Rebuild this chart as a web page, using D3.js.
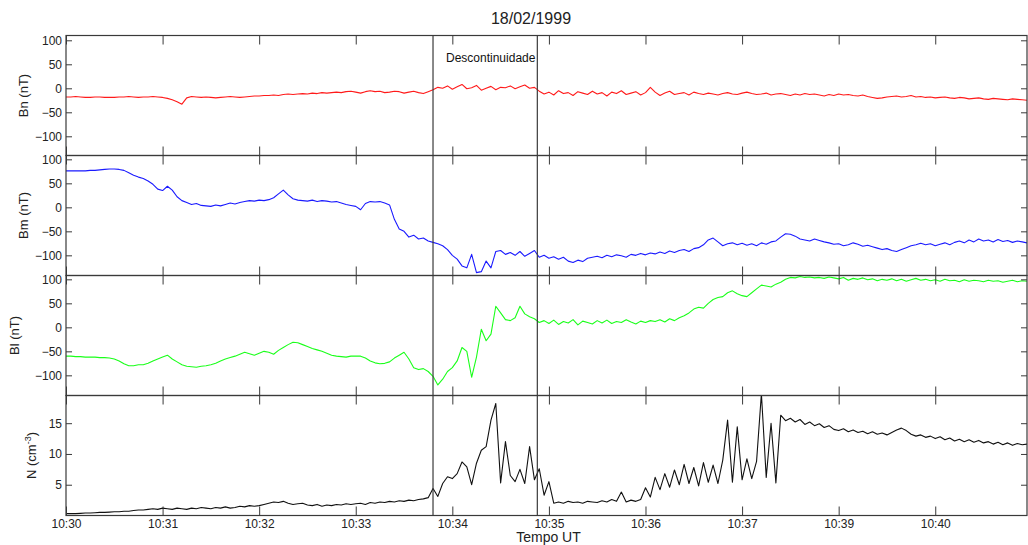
<!DOCTYPE html>
<html>
<head>
<meta charset="utf-8">
<script src="https://cdn.jsdelivr.net/npm/d3@7"></script>
<style>
  html, body { margin: 0; padding: 0; background: #fff; }
  svg { display: block; font-family: "Liberation Sans", Arial, sans-serif; }
</style>
</head>
<body>
<svg id="chart" width="1028" height="545"></svg>
<script>
// Sampling: one value every 0.05 min, first sample at 10:30 UT
const sampleStep = 0.05;

// Time axis ticks (minutes from 10:30) and their labels
const tickMinutes = [0, 1, 2, 3, 4, 5, 6, 7, 8, 9];
const tickLabels = ["10:30", "10:31", "10:32", "10:33", "10:34", "10:35", "10:36", "10:37", "10:39", "10:40"];

// Discontinuity boundaries (minutes from 10:30)
const discontinuity = [3.80, 4.88];

// Field component Bn (nT)
const bn = [
  -18,-18,-17,-18,-19,-19,-18,-18,-19,-19,
  -19,-18,-18,-17,-18,-19,-18,-18,-17,-18,
  -19,-21,-24,-28,-33,-20,-17,-18,-19,-18,
  -19,-20,-19,-18,-17,-18,-19,-18,-17,-16,
  -16,-15,-15,-14,-15,-13,-12,-13,-12,-11,
  -12,-10,-11,-9,-10,-9,-8,-9,-7,-6,
  -8,-10,-7,-5,-7,-6,-9,-8,-6,-7,
  -10,-8,-6,-9,-11,-7,-3,2,0,5,
  -2,3,8,-1,1,6,-4,0,4,-3,
  2,1,5,-1,3,7,0,2,-6,-12,
  -8,-14,-5,-11,-9,-15,-7,-10,-13,-6,
  -12,-9,-16,-8,-11,-5,-13,-10,-7,-14,
  -9,2,-8,-15,-10,-6,-13,-11,-9,-14,
  -8,-11,-13,-10,-12,-14,-11,-9,-12,-13,
  -10,-8,-11,-13,-12,-10,-14,-12,-11,-13,
  -15,-12,-14,-11,-13,-12,-14,-16,-13,-15,
  -12,-14,-13,-15,-16,-14,-17,-19,-21,-20,
  -18,-17,-16,-18,-17,-15,-18,-17,-19,-18,
  -20,-19,-18,-20,-21,-19,-20,-22,-21,-20,
  -22,-23,-21,-22,-23,-24,-22,-23,-24,-25
];

// Field component Bm (nT)
const bm = [
  76,76,76,76,76,77,77,78,79,80,
  80,79,77,72,67,63,60,55,48,38,
  35,44,36,22,14,10,6,8,4,3,
  2,5,3,6,9,7,10,12,14,13,
  15,14,16,20,28,36,26,18,15,14,
  13,15,12,14,13,11,12,9,6,4,
  2,-5,8,12,11,12,9,5,-25,-45,
  -50,-62,-58,-66,-64,-70,-73,-76,-80,-88,
  -100,-108,-122,-126,-98,-136,-134,-112,-126,-92,
  -90,-98,-94,-100,-92,-102,-96,-90,-104,-100,
  -106,-103,-108,-104,-112,-115,-110,-113,-106,-104,
  -102,-105,-100,-103,-99,-101,-104,-98,-100,-96,
  -99,-95,-97,-93,-96,-91,-94,-90,-88,-92,
  -86,-84,-78,-68,-64,-72,-80,-76,-74,-78,
  -75,-79,-76,-80,-74,-77,-72,-70,-62,-55,
  -56,-60,-66,-68,-70,-66,-69,-72,-74,-77,
  -76,-80,-78,-74,-77,-81,-79,-82,-85,-88,
  -86,-90,-92,-88,-84,-80,-78,-75,-78,-76,
  -80,-77,-74,-78,-73,-70,-74,-68,-72,-66,
  -70,-68,-72,-67,-71,-69,-73,-70,-72,-74
];

// Field component Bl (nT)
const bl = [
  -60,-60,-61,-61,-62,-62,-62,-63,-63,-64,
  -66,-70,-76,-80,-80,-78,-78,-75,-70,-66,
  -62,-58,-66,-72,-78,-81,-82,-83,-81,-80,
  -78,-75,-70,-66,-63,-60,-56,-52,-55,-58,
  -54,-50,-52,-56,-48,-42,-36,-31,-32,-36,
  -40,-44,-47,-50,-54,-58,-60,-61,-62,-60,
  -60,-60,-64,-70,-74,-76,-75,-72,-64,-58,
  -52,-66,-84,-88,-86,-92,-102,-120,-108,-92,
  -84,-70,-42,-50,-104,-62,-4,-28,-14,44,
  30,16,14,20,44,28,22,18,10,14,
  8,15,6,12,9,16,5,13,10,7,
  14,9,15,8,12,10,16,11,7,13,
  10,14,12,16,11,18,14,20,24,30,
  38,42,40,50,58,62,64,72,76,70,
  66,64,72,80,88,86,84,90,94,100,
  104,103,106,104,105,103,104,102,105,103,
  101,104,98,102,100,103,99,101,97,100,
  98,101,97,100,96,99,102,98,100,97,
  99,96,100,97,98,95,99,96,98,97,
  95,98,96,97,94,96,98,95,97,96
];

// Plasma density N (cm^-3)
const density = [
  0.3,0.3,0.3,0.35,0.4,0.4,0.45,0.5,0.5,0.55,
  0.6,0.6,0.7,0.7,0.8,0.9,0.9,1.0,1.1,1.0,
  1.2,1.1,1.0,1.2,1.1,1.0,1.2,1.1,1.3,1.2,
  1.1,1.3,1.2,1.4,1.2,1.3,1.5,1.4,1.6,1.5,
  1.6,1.8,2.0,2.2,2.1,2.3,2.0,1.8,1.9,2.0,
  1.7,1.6,1.8,1.5,1.7,1.6,1.8,1.7,1.9,1.8,
  1.9,2.0,1.8,2.1,2.0,2.2,2.1,2.3,2.2,2.4,
  2.3,2.5,2.4,2.6,2.7,2.9,4.4,3.1,5.2,6.3,
  6.0,6.8,8.7,7.9,5.0,8.5,10.6,11.2,15.5,18.2,
  5.3,12.0,6.5,5.5,7.5,5.2,11.2,5.8,7.6,3.3,
  5.5,2.0,2.2,2.0,2.3,2.1,2.2,2.0,2.3,2.2,
  2.1,2.4,2.2,2.6,2.3,3.8,2.2,2.5,2.3,2.6,
  4.5,3.0,6.2,4.2,6.8,4.6,7.4,5.0,8.3,5.2,
  7.8,4.8,8.6,5.4,8.2,5.2,9.0,15.5,5.4,14.4,
  5.8,9.2,6.0,8.8,19.8,6.2,15.0,5.3,16.3,15.4,
  15.8,15.2,15.6,14.8,15.2,14.6,14.9,14.3,14.6,14.0,
  13.8,14.1,13.6,13.9,13.5,13.7,13.3,13.6,13.2,13.4,
  13.1,13.5,13.9,14.2,13.8,13.2,12.9,13.1,12.7,12.9,
  12.5,12.8,12.3,12.6,12.1,12.4,12.0,12.3,11.9,12.2,
  11.8,12.0,11.6,11.9,11.5,11.8,11.4,11.7,11.5,11.6
];

const fieldTicks = [-100, -50, 0, 50, 100];
const densityTicks = [5, 10, 15];

// ---- layout ----
const svg = d3.select("#chart");
const left = 66, right = 1027;
const panelTops = [35.5, 155.5, 275.5, 395.5];
const panelHeight = 120;
const axisColor = "#3a3a3a";

const x = d3.scaleLinear().domain([0, 9.95]).range([left, right]);

const panels = [
  { values: bn, color: "#ff1a1a", domain: [-140, 110], ticks: fieldTicks, label: "Bn (nT)", labelX: 28 },
  { values: bm, color: "#1a1aff", domain: [-142, 108], ticks: fieldTicks, label: "Bm (nT)", labelX: 28 },
  { values: bl, color: "#1aff1a", domain: [-142, 108], ticks: fieldTicks, label: "Bl (nT)", labelX: 19 },
  { values: density, color: "#111111", domain: [0, 19.5], ticks: densityTicks, label: null, labelX: 36 }
];

const defs = svg.append("defs");

panels.forEach((p, k) => {
  const top = panelTops[k];
  const bottom = top + panelHeight;
  const y = d3.scaleLinear().domain(p.domain).range([bottom, top]);

  defs.append("clipPath").attr("id", "clip" + k)
    .append("rect").attr("x", left).attr("y", top).attr("width", right - left).attr("height", panelHeight);

  const g = svg.append("g");

  // data trace
  const line = d3.line()
    .x((d, i) => x(i * sampleStep))
    .y(d => y(d));
  g.append("path")
    .datum(p.values)
    .attr("clip-path", "url(#clip" + k + ")")
    .attr("fill", "none")
    .attr("stroke", p.color)
    .attr("stroke-width", 1.1)
    .attr("stroke-linejoin", "round")
    .attr("d", line);

  // left axis with labels, inward ticks
  const yLeft = g.append("g").attr("transform", `translate(${left},0)`)
    .call(d3.axisLeft(y).tickValues(p.ticks).tickSize(-6).tickSizeOuter(0).tickPadding(4));
  // right axis, ticks only
  const yRight = g.append("g").attr("transform", `translate(${right},0)`)
    .call(d3.axisRight(y).tickValues(p.ticks).tickSize(-6).tickSizeOuter(0).tickFormat(""));
  // top time ticks
  const xTop = g.append("g").attr("transform", `translate(0,${top})`)
    .call(d3.axisTop(x).tickValues(tickMinutes).tickSize(-9).tickSizeOuter(0).tickFormat(""));
  // bottom time ticks (labels on the last panel)
  const xBottom = g.append("g").attr("transform", `translate(0,${bottom})`)
    .call(d3.axisBottom(x).tickValues(tickMinutes).tickSize(-9).tickSizeOuter(0).tickPadding(4)
      .tickFormat((d, i) => k === panels.length - 1 ? tickLabels[i] : ""));

  [yLeft, yRight, xTop, xBottom].forEach(a => {
    a.select(".domain").remove();
    a.selectAll(".tick line").attr("stroke", axisColor);
    a.selectAll(".tick text").attr("fill", "#222").style("font-size", "12px")
      .style("font-family", '"Liberation Sans", Arial, sans-serif');
  });

  // panel frame
  g.append("rect")
    .attr("x", left).attr("y", top)
    .attr("width", right - left).attr("height", panelHeight)
    .attr("fill", "none").attr("stroke", axisColor).attr("stroke-width", 1.2);

  // y label
  const lbl = g.append("text")
    .attr("transform", `translate(${p.labelX},${top + panelHeight / 2}) rotate(-90)`)
    .attr("text-anchor", "middle")
    .attr("fill", "#222")
    .style("font-size", "13px");
  if (p.label) {
    lbl.text(p.label);
  } else {
    lbl.append("tspan").text("N (cm");
    lbl.append("tspan").attr("baseline-shift", "super").style("font-size", "9px").text("-3");
    lbl.append("tspan").text(")");
  }
});

// discontinuity boundaries across all panels
svg.append("g").selectAll("line")
  .data(discontinuity)
  .join("line")
  .attr("x1", d => x(d)).attr("x2", d => x(d))
  .attr("y1", panelTops[0]).attr("y2", panelTops[3] + panelHeight)
  .attr("stroke", axisColor).attr("stroke-width", 1.2);

svg.append("text")
  .attr("x", x(discontinuity[0]) + 13)
  .attr("y", 62)
  .attr("fill", "#111")
  .style("font-size", "12px")
  .text("Descontinuidade");

// title and time axis label
svg.append("text")
  .attr("x", 531).attr("y", 24)
  .attr("text-anchor", "middle")
  .attr("fill", "#222")
  .style("font-size", "16px")
  .text("18/02/1999");

svg.append("text")
  .attr("x", (left + right) / 2 + 2).attr("y", 542)
  .attr("text-anchor", "middle")
  .attr("fill", "#222")
  .style("font-size", "14px")
  .text("Tempo UT");
</script>
</body>
</html>
